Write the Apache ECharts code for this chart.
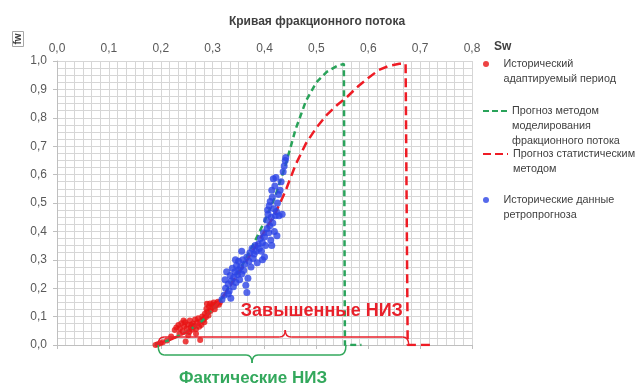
<!DOCTYPE html>
<html><head><meta charset="utf-8">
<script src="https://cdn.jsdelivr.net/npm/echarts@6/dist/echarts.min.js"></script>
<style>html,body{margin:0;padding:0;background:#fff}#c{width:637px;height:383px}</style>
</head><body><div id="c"></div>
<script>
// ---------- data ----------
const xTickValues = [0, 0.1, 0.2, 0.3, 0.4, 0.5, 0.6, 0.7, 0.8];
const yTickValues = [0, 0.1, 0.2, 0.3, 0.4, 0.5, 0.6, 0.7, 0.8, 0.9, 1.0];

const histPoints = [
  [0.190,0.000],[0.194,0.003],[0.199,0.006],[0.204,0.010],[0.212,0.016],[0.220,0.030],
  [0.227,0.053],[0.230,0.062],[0.234,0.070],[0.237,0.058],[0.240,0.077],[0.242,0.048],
  [0.245,0.066],[0.247,0.080],[0.248,0.012],[0.250,0.058],[0.252,0.072],[0.255,0.046],
  [0.256,0.086],[0.258,0.062],[0.260,0.054],[0.262,0.076],[0.264,0.066],[0.266,0.090],
  [0.268,0.056],[0.270,0.078],[0.272,0.094],[0.274,0.064],[0.276,0.018],[0.276,0.084],
  [0.278,0.070],[0.280,0.100],[0.282,0.088],[0.284,0.080],[0.285,0.110],[0.287,0.098],
  [0.288,0.128],[0.289,0.145],[0.290,0.116],[0.292,0.104],[0.293,0.136],[0.295,0.146],
  [0.296,0.120],[0.298,0.132],[0.300,0.142],[0.302,0.150],[0.304,0.126],[0.306,0.138],
  [0.308,0.146],[0.310,0.152],[0.312,0.142],[0.314,0.150],[0.268,0.040],[0.253,0.034],
  [0.244,0.086],[0.236,0.040],[0.259,0.070],[0.283,0.092]
];

const retroPoints = [
  [0.318,0.160],[0.322,0.175],[0.325,0.200],[0.324,0.230],[0.327,0.258],[0.330,0.215],
  [0.332,0.190],[0.334,0.245],[0.336,0.225],[0.338,0.270],[0.340,0.205],[0.341,0.238],
  [0.343,0.258],[0.345,0.220],[0.346,0.280],[0.348,0.248],[0.350,0.295],[0.350,0.265],
  [0.352,0.230],[0.354,0.275],[0.356,0.250],[0.358,0.300],[0.360,0.262],[0.362,0.285],
  [0.364,0.210],[0.366,0.185],[0.366,0.310],[0.368,0.235],[0.370,0.295],[0.372,0.325],
  [0.374,0.275],[0.376,0.340],[0.378,0.305],[0.380,0.320],[0.382,0.350],[0.384,0.330],
  [0.386,0.290],[0.388,0.355],[0.390,0.340],[0.392,0.375],[0.394,0.330],[0.396,0.360],
  [0.398,0.395],[0.400,0.380],[0.402,0.350],[0.404,0.440],[0.405,0.410],[0.406,0.475],
  [0.407,0.460],[0.408,0.395],[0.409,0.490],[0.410,0.420],[0.411,0.505],[0.412,0.370],
  [0.413,0.450],[0.414,0.545],[0.414,0.350],[0.415,0.520],[0.416,0.430],[0.417,0.585],
  [0.418,0.480],[0.419,0.400],[0.420,0.560],[0.421,0.455],[0.422,0.590],[0.423,0.470],
  [0.424,0.385],[0.425,0.500],[0.427,0.530],[0.430,0.545],[0.432,0.575],[0.434,0.460],
  [0.436,0.610],[0.438,0.630],[0.440,0.650],[0.441,0.660],[0.428,0.455],[0.400,0.310],
  [0.396,0.300],[0.356,0.330],[0.344,0.300],[0.335,0.165],[0.330,0.180]
];

const fracFlowSw = [0.19,0.22,0.25,0.28,0.30,0.32,0.34,0.36,0.38,0.40,0.42,0.44,0.46,0.48,0.50,0.52,0.54,0.553,0.555,0.587];
const fracFlowFw = [0.00,0.02,0.045,0.085,0.125,0.17,0.23,0.29,0.36,0.435,0.52,0.63,0.76,0.86,0.925,0.962,0.983,0.99,0.0,0.0];

const statSw = [0.19,0.22,0.25,0.28,0.30,0.32,0.34,0.36,0.38,0.40,0.42,0.44,0.46,0.48,0.50,0.52,0.54,0.56,0.58,0.60,0.62,0.64,0.66,0.672,0.676,0.722];
const statFw = [0.00,0.02,0.045,0.085,0.125,0.17,0.225,0.28,0.34,0.40,0.46,0.54,0.635,0.71,0.765,0.81,0.845,0.875,0.91,0.94,0.968,0.983,0.99,0.99,0.0,0.0];

const NAME_HIST = 'Исторический\nадаптируемый период';
const NAME_FRAC = 'Прогноз методом\nмоделирования\nфракционного потока';
const NAME_STAT = 'Прогноз статистическим\nметодом';
const NAME_RETRO = 'Исторические данные\nретропрогноза';

// ---------- chart ----------
const FONT = '"Liberation Sans", Arial, sans-serif';
const GRID = '#d6d6d6';
const AXIS = '#bfbfbf';
const GREEN = '#2aa35a';
const RED = '#ee1c25';
const fmt = v => v.toFixed(1).replace('.', ',');
const zip = (a, b) => a.map((v, i) => [v, b[i]]);

const chart = echarts.init(document.getElementById('c'));

const ICON_GREEN_DASH = 'path://M0,0h6v2h-6z M9,0h6v2h-6z M18,0h6v2h-6z';
const ICON_RED_DASH = 'path://M0,0h8v2h-8z M12,0h8v2h-8z M24,0h1v2h-1z';

function legendItem(name, top, icon, iw, ih) {
  const n = name.split('\n').length;
  return {
    data: [{ name: name, icon: icon }],
    formatter: s => ' \n'.repeat(n - 1) + s,
    left: 483, top: top, padding: 0,
    itemWidth: iw, itemHeight: ih,
    selectedMode: false,
    textStyle: { fontFamily: FONT, fontSize: 10.8, color: '#404040', lineHeight: 15 }
  };
}

chart.setOption({
  animation: false,
  backgroundColor: '#ffffff',
  textStyle: { fontFamily: FONT },
  title: {
    text: 'Кривая фракционного потока',
    left: 312, top: 11, textAlign: 'center',
    textStyle: { fontFamily: FONT, fontSize: 12, fontWeight: 'bold', color: '#404040' }
  },
  grid: { left: 57, right: 165, top: 61, bottom: 38, containLabel: false },
  legend: [
    legendItem(NAME_HIST, 41.5, 'circle', 25, 6),
    legendItem(NAME_FRAC, 73.5, ICON_GREEN_DASH, 24, 2.5),
    legendItem(NAME_STAT, 131.5, ICON_RED_DASH, 25, 2.5),
    legendItem(NAME_RETRO, 177.5, 'circle', 25, 6)
  ],
  xAxis: [
    {
      type: 'value', position: 'bottom', min: 0, max: 0.8, interval: 0.1,
      axisLine: { show: true, onZero: false, lineStyle: { color: AXIS, width: 1 } },
      axisTick: { show: true, length: 4, lineStyle: { color: AXIS } },
      axisLabel: { show: false },
      splitLine: { show: true, lineStyle: { color: GRID, width: 1 } },
      minorTick: { show: false, splitNumber: 6 },
      minorSplitLine: { show: true, lineStyle: { color: GRID, width: 1 } }
    },
    {
      type: 'value', position: 'top', min: 0, max: 0.8, interval: 0.1,
      axisLine: { show: false, onZero: false }, axisTick: { show: false }, splitLine: { show: false },
      axisLabel: {
        formatter: v => xTickValues.includes(Math.round(v * 10) / 10) ? fmt(v) : '',
        color: '#595959', fontSize: 12, margin: 6, fontFamily: FONT
      },
      name: 'Sw', nameLocation: 'end', nameGap: 22,
      nameTextStyle: { fontFamily: FONT, fontSize: 12, fontWeight: 'bold', color: '#404040',
        align: 'left', verticalAlign: 'bottom', padding: [0, 0, 8, 0] }
    }
  ],
  yAxis: {
    type: 'value', min: 0, max: 1, interval: 0.1,
    axisLine: { show: true, lineStyle: { color: AXIS, width: 1 } },
    axisTick: { show: true, length: 4, lineStyle: { color: AXIS } },
    axisLabel: {
      formatter: v => yTickValues.includes(Math.round(v * 10) / 10) ? fmt(v) : '',
      color: '#595959', fontSize: 12, margin: 10, fontFamily: FONT
    },
    splitLine: { show: true, lineStyle: { color: GRID, width: 1 } },
    minorTick: { show: false, splitNumber: 4 },
    minorSplitLine: { show: true, lineStyle: { color: GRID, width: 1 } }
  },
  series: [
    {
      name: NAME_HIST, type: 'scatter', data: histPoints, symbol: 'circle', symbolSize: 6,
      itemStyle: { color: '#e81414' }, z: 3
    },
    {
      name: NAME_FRAC, type: 'line', data: zip(fracFlowSw, fracFlowFw), showSymbol: false, symbol: 'none',
      lineStyle: { color: GREEN, width: 2.5, type: [6, 4] }, itemStyle: { color: GREEN }, z: 4
    },
    {
      name: NAME_STAT, type: 'line', data: zip(statSw, statFw), showSymbol: false, symbol: 'none',
      lineStyle: { color: RED, width: 2.5, type: [9, 5] }, itemStyle: { color: RED }, z: 4
    },
    {
      name: NAME_RETRO, type: 'scatter', data: retroPoints, symbol: 'circle', symbolSize: 7,
      itemStyle: { color: '#2c44e6' }, z: 5
    }
  ]
});

// ---------- annotations (braces & labels, placed in data coordinates) ----------
const px = (x, y) => chart.convertToPixel({ xAxisIndex: 0, yAxisIndex: 0 }, [x, y]);

function brace(x1, x2, xm, y0, yh, yt, color) {
  const a = px(x1, y0), b = px(x2, y0), h = px(xm, yh)[1], m = px(xm, yt);
  const r = 6;
  const st = { stroke: color, lineWidth: 1.5, fill: null };
  const mk = (type, shape) => ({ type: type, shape: shape, style: st, z: 10, silent: true });
  return [
    mk('bezierCurve', { x1: a[0], y1: a[1], cpx1: a[0], cpy1: h, x2: a[0] + r, y2: h }),
    mk('line', { x1: a[0] + r, y1: h, x2: m[0] - r, y2: h }),
    mk('bezierCurve', { x1: m[0] - r, y1: h, cpx1: m[0], cpy1: h, x2: m[0], y2: m[1] }),
    mk('bezierCurve', { x1: m[0], y1: m[1], cpx1: m[0], cpy1: h, x2: m[0] + r, y2: h }),
    mk('line', { x1: m[0] + r, y1: h, x2: b[0] - r, y2: h }),
    mk('bezierCurve', { x1: b[0] - r, y1: h, cpx1: b[0], cpy1: h, x2: b[0], y2: b[1] })
  ];
}

const redLabelPos = px(0.5105, 0.12);
const greenLabelPos = px(0.378, -0.116);

chart.setOption({
  graphic: [].concat(
    brace(0.195, 0.678, 0.44, 0.0, 0.028, 0.053, '#e8202a'),
    brace(0.195, 0.557, 0.376, 0.0, -0.035, -0.063, '#33a85c'),
    [
      { type: 'text', x: redLabelPos[0], y: redLabelPos[1], z: 10,
        style: { text: 'Завышенные НИЗ', fill: '#e8202a', font: 'bold 18px ' + FONT, align: 'center', verticalAlign: 'middle' } },
      { type: 'text', x: greenLabelPos[0], y: greenLabelPos[1], z: 10,
        style: { text: 'Фактические НИЗ', fill: '#33a85c', font: 'bold 17px ' + FONT, align: 'center', verticalAlign: 'middle' } },
      { type: 'rect', shape: { x: 12.5, y: 31.5, width: 11, height: 15 },
        style: { fill: '#fff', stroke: '#a6a6a6', lineWidth: 1 }, z: 10 },
      { type: 'text', x: 18, y: 39, rotation: Math.PI / 2, z: 11,
        style: { text: 'fw', fill: '#404040', font: 'bold 10px ' + FONT, align: 'center', verticalAlign: 'middle' } }
    ]
  )
});
</script>
</body></html>
